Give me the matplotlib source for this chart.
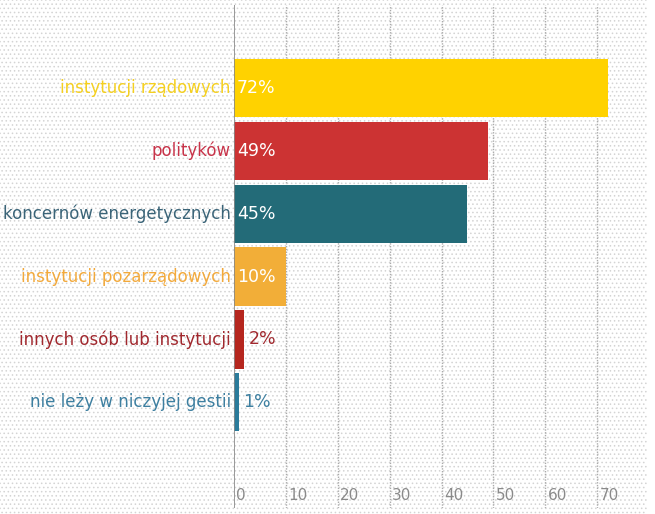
import matplotlib.pyplot as plt
from matplotlib.patches import Rectangle
from matplotlib import font_manager

# data
categories = ["instytucji rządowych", "polityków", "koncernów energetycznych",
              "instytucji pozarządowych", "innych osób lub instytucji",
              "nie leży w niczyjej gestii"]
values = [72, 49, 45, 10, 2, 1]
bar_colors = ["#FFD200", "#CC3333", "#236B78", "#F2AE38", "#B5261E", "#2A7B9B"]
label_colors = ["#F5D020", "#C8344A", "#3A6478", "#F2A93B", "#A0282E", "#3D7FA0"]
xticks = [0, 10, 20, 30, 40, 50, 60, 70]

names = {f.name for f in font_manager.fontManager.ttflist}
fam = "Liberation Sans Narrow" if "Liberation Sans Narrow" in names else "DejaVu Sans"
plt.rcParams['font.family'] = [fam, 'DejaVu Sans']
plt.rcParams['hatch.linewidth'] = 0.6

fig = plt.figure(figsize=(6.55, 5.14), dpi=100)
# dotted background
bg = Rectangle((0, 0), 0.988, 1, transform=fig.transFigure, facecolor="white",
               edgecolor="#d4d4d4", hatch="....", linewidth=0, zorder=-10)
fig.patches.append(bg)

ax = fig.add_axes([0.357, 0.012, 0.631, 0.978])
ax.patch.set_alpha(0)

y = list(range(len(categories)))
ax.barh(y, values, height=0.93, color=bar_colors, zorder=3)
ax.set_xlim(0, 79.6)
ax.set_ylim(6.68, -1.32)

for xt in xticks[1:]:
    ax.axvline(xt, color="#aaaaaa", linestyle=(0, (1, 1)), linewidth=1, zorder=1)
ax.axvline(0, color="#888888", linewidth=1.2, zorder=4)
for xt in xticks:
    ax.text(xt + 0.5, 6.48, str(xt), color="#8a8a8a", fontsize=11,
            ha="left", va="center")

for i, (cat, v) in enumerate(zip(categories, values)):
    ax.text(-0.6, i, cat, color=label_colors[i], fontsize=12, ha="right", va="center")
    if v >= 10:
        ax.text(0.6, i, f"{v}%", color="white", fontsize=12.5, ha="left", va="center",
                zorder=5)
    else:
        ax.text(v + 0.8, i, f"{v}%", color=label_colors[i], fontsize=12.5,
                ha="left", va="center", zorder=5)

ax.set_xticks([])
ax.set_yticks([])
for s in ax.spines.values():
    s.set_visible(False)

fig.savefig("out.png", dpi=100)
